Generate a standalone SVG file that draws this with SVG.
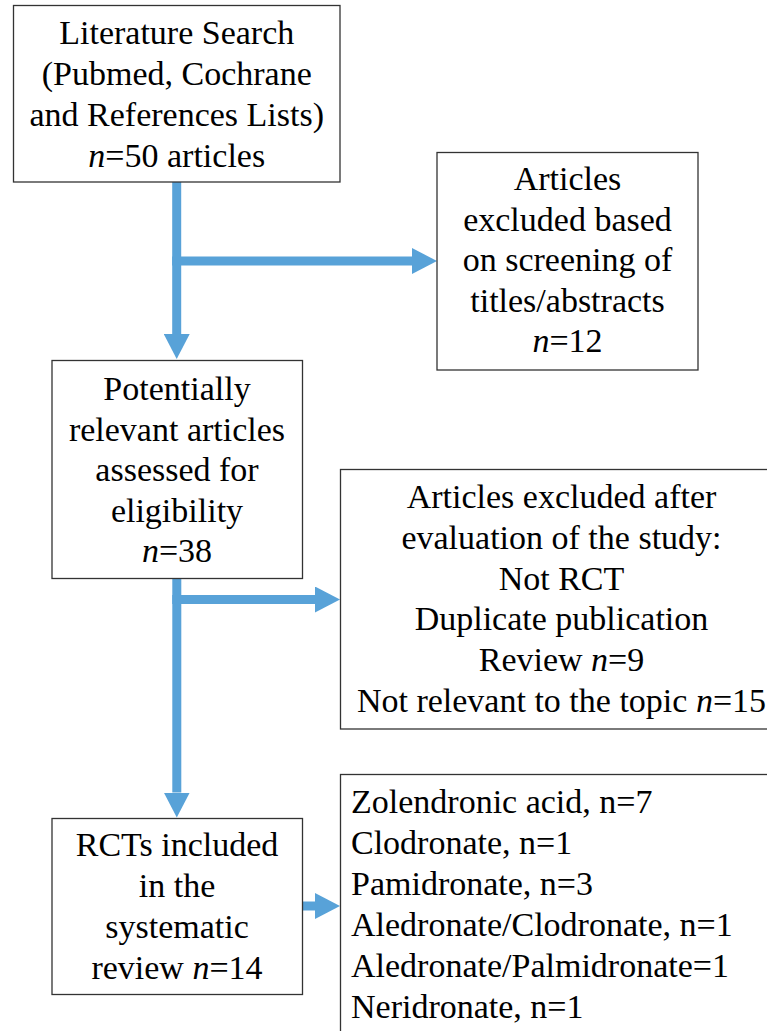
<svg xmlns="http://www.w3.org/2000/svg" width="767" height="1031" viewBox="0 0 767 1031">
<style>
.box{fill:#fff;stroke:#333;stroke-width:1.3}
.t{font-family:"Liberation Serif","Times New Roman",serif;font-size:34px;fill:#000}
.c{text-anchor:middle}
.i{font-style:italic}
.con{fill:none;stroke:#58A2D8;stroke-width:9;marker-end:url(#ah)}
</style>
<defs>
<marker id="ah" markerUnits="userSpaceOnUse" markerWidth="25" markerHeight="26" refX="0" refY="13" orient="auto" viewBox="0 0 25 26">
<path d="M0,0 L25,13 L0,26 Z" fill="#58A2D8"/>
</marker>
</defs>
<rect width="767" height="1031" fill="#fff"/>
<g id="connectors">
<path class="con" d="M176.7,182 V334"/>
<path class="con" d="M172.2,261 H412"/>
<path class="con" d="M176.8,578.5 V792.5"/>
<path class="con" d="M172.3,599.5 H315"/>
<path class="con" d="M302,906 H315"/>
</g>
<g id="search">
<rect class="box" x="13.5" y="5.5" width="326.5" height="176.5"/>
<text class="t c" x="176.75" y="43.5">Literature Search</text>
<text class="t c" x="176.75" y="84.5">(Pubmed, Cochrane</text>
<text class="t c" x="176.75" y="125.5">and References Lists)</text>
<text class="t c" x="176.75" y="166.5"><tspan class="i">n</tspan>=50 articles</text>
</g>
<g id="excluded-screening">
<rect class="box" x="437" y="152.5" width="261" height="217.5"/>
<text class="t c" x="567.5" y="190">Articles</text>
<text class="t c" x="567.5" y="230.5">excluded based</text>
<text class="t c" x="567.5" y="271">on screening of</text>
<text class="t c" x="567.5" y="311.5">titles/abstracts</text>
<text class="t c" x="567.5" y="352"><tspan class="i">n</tspan>=12</text>
</g>
<g id="eligible">
<rect class="box" x="52" y="360.5" width="250.5" height="218"/>
<text class="t c" x="177" y="400">Potentially</text>
<text class="t c" x="177" y="440.5">relevant articles</text>
<text class="t c" x="177" y="481">assessed for</text>
<text class="t c" x="177" y="521.5">eligibility</text>
<text class="t c" x="177" y="562"><tspan class="i">n</tspan>=38</text>
</g>
<g id="excluded-evaluation">
<rect class="box" x="340.5" y="469.5" width="460" height="259.5"/>
<text class="t c" x="561.5" y="508">Articles excluded after</text>
<text class="t c" x="561.5" y="548.5">evaluation of the study:</text>
<text class="t c" x="561.5" y="589.5">Not RCT</text>
<text class="t c" x="561.5" y="630">Duplicate publication</text>
<text class="t c" x="561.5" y="670.5">Review <tspan class="i">n</tspan>=9</text>
<text class="t c" x="561.5" y="711.5">Not relevant to the topic <tspan class="i">n</tspan>=15</text>
</g>
<g id="included">
<rect class="box" x="52" y="818.5" width="250.5" height="176"/>
<text class="t c" x="177" y="855.5">RCTs included</text>
<text class="t c" x="177" y="896.5">in the</text>
<text class="t c" x="177" y="938">systematic</text>
<text class="t c" x="177" y="979">review <tspan class="i">n</tspan>=14</text>
</g>
<g id="drugs">
<rect class="box" x="340.5" y="774.5" width="460" height="280"/>
<text class="t" x="351" y="813">Zolendronic acid, n=7</text>
<text class="t" x="351" y="854">Clodronate, n=1</text>
<text class="t" x="351" y="895">Pamidronate, n=3</text>
<text class="t" x="351" y="936">Aledronate/Clodronate, n=1</text>
<text class="t" x="351" y="977">Aledronate/Palmidronate=1</text>
<text class="t" x="351" y="1018">Neridronate, n=1</text>
</g>
</svg>
